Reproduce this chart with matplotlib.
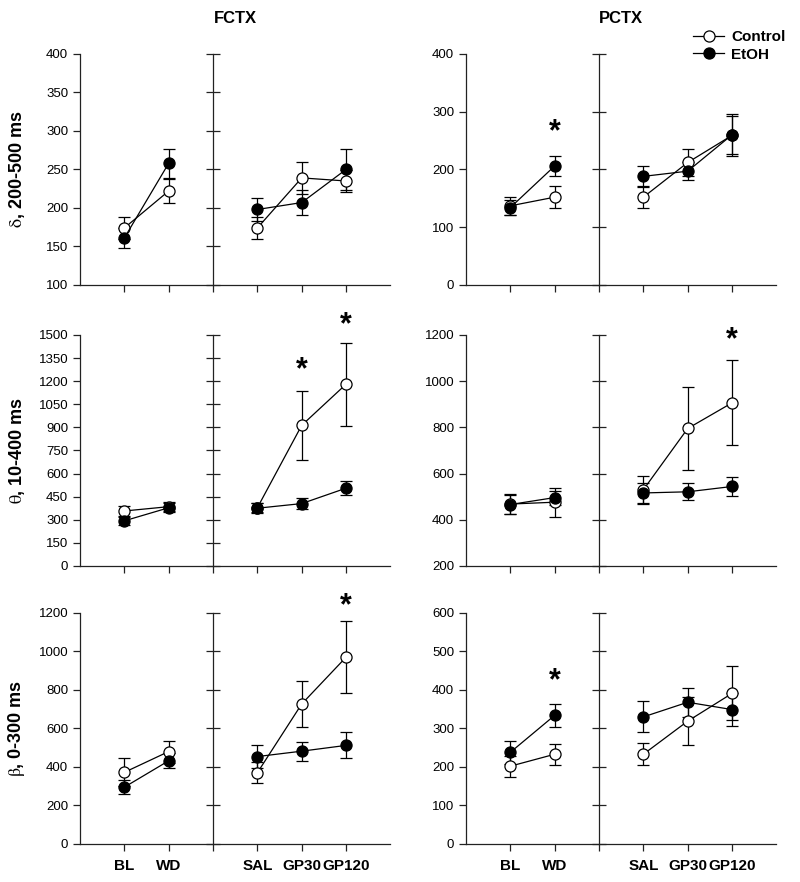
import matplotlib
matplotlib.use('Agg')
import matplotlib.pyplot as plt
import numpy as np

plt.rcParams['font.family'] = ['Liberation Sans', 'DejaVu Sans']
plt.rcParams['mathtext.fontset'] = 'stix'

conditions = ['BL', 'WD', 'SAL', 'GP30', 'GP120']
regions = ['FCTX', 'PCTX']
band_labels = [r'$\mathrm{\delta}$, 200-500 ms', r'$\mathrm{\theta}$, 10-400 ms',
               r'$\mathrm{\beta}$, 0-300 ms']

# mean and SEM, in order BL, WD, SAL, GP30, GP120
fctx_delta_ctrl = [174, 222, 174, 239, 235]
fctx_delta_ctrl_err = [14, 16, 14, 21, 14]
fctx_delta_etoh = [161, 258, 198, 207, 250]
fctx_delta_etoh_err = [13, 19, 15, 16, 27]

pctx_delta_ctrl = [137, 152, 152, 212, 259]
pctx_delta_ctrl_err = [16, 19, 19, 24, 33]
pctx_delta_etoh = [134, 206, 188, 197, 260]
pctx_delta_etoh_err = [13, 18, 18, 15, 36]

fctx_theta_ctrl = [357, 385, 378, 913, 1180]
fctx_theta_ctrl_err = [33, 30, 30, 222, 270]
fctx_theta_etoh = [293, 378, 375, 405, 505]
fctx_theta_etoh_err = [28, 28, 33, 35, 46]

pctx_theta_ctrl = [468, 476, 530, 795, 906]
pctx_theta_ctrl_err = [44, 62, 60, 181, 184]
pctx_theta_etoh = [466, 496, 516, 521, 544]
pctx_theta_etoh_err = [42, 30, 45, 36, 42]

fctx_beta_ctrl = [372, 480, 370, 727, 970]
fctx_beta_ctrl_err = [73, 57, 54, 120, 187]
fctx_beta_etoh = [295, 432, 454, 482, 512]
fctx_beta_etoh_err = [38, 40, 60, 50, 68]

pctx_beta_ctrl = [202, 233, 233, 319, 391]
pctx_beta_ctrl_err = [27, 27, 28, 62, 70]
pctx_beta_etoh = [238, 334, 330, 368, 349]
pctx_beta_etoh_err = [30, 29, 40, 38, 42]

# (row, col, condition, y) for significance stars
stars = [(0, 1, 'WD', 265), (1, 0, 'GP30', 1273), (1, 0, 'GP120', 1565),
         (1, 1, 'GP120', 1178), (2, 0, 'GP120', 1235), (2, 1, 'WD', 422)]

data = [
    [(fctx_delta_ctrl, fctx_delta_ctrl_err, fctx_delta_etoh, fctx_delta_etoh_err),
     (pctx_delta_ctrl, pctx_delta_ctrl_err, pctx_delta_etoh, pctx_delta_etoh_err)],
    [(fctx_theta_ctrl, fctx_theta_ctrl_err, fctx_theta_etoh, fctx_theta_etoh_err),
     (pctx_theta_ctrl, pctx_theta_ctrl_err, pctx_theta_etoh, pctx_theta_etoh_err)],
    [(fctx_beta_ctrl, fctx_beta_ctrl_err, fctx_beta_etoh, fctx_beta_etoh_err),
     (pctx_beta_ctrl, pctx_beta_ctrl_err, pctx_beta_etoh, pctx_beta_etoh_err)],
]

# axis ranges: (ymin, ymax, step)
yranges = [[(100, 400, 50), (0, 400, 100)],
           [(0, 1500, 150), (200, 1200, 200)],
           [(0, 1200, 200), (0, 600, 100)]]

xpos = np.array([1, 2, 4, 5, 6])
divider_x = 3
segments = [slice(0, 2), slice(2, 5)]

fig = plt.figure(figsize=(8, 8.82), dpi=100)
lefts = [0.1, 0.5825]
bottoms = [0.6769, 0.3583, 0.0431]
w, h = 0.388, 0.262

for r in range(3):
    for c in range(2):
        ax = fig.add_axes([lefts[c], bottoms[r], w, h])
        ctrl, ctrl_err, etoh, etoh_err = [np.array(a) for a in data[r][c]]
        ymin, ymax, step = yranges[r][c]

        for mean, err, face, lab in [(ctrl, ctrl_err, 'white', 'Control'),
                                     (etoh, etoh_err, 'black', 'EtOH')]:
            for i, s in enumerate(segments):
                ax.errorbar(xpos[s], mean[s], yerr=err[s], fmt='none', ecolor='black',
                            elinewidth=0.9, capsize=4.5, capthick=0.9, zorder=2)
                ax.plot(xpos[s], mean[s], '-o', color='black', lw=0.9, ms=8,
                        mfc=face, mec='black', mew=0.9, zorder=3,
                        label=lab if i == 0 else None)

        ax.set_xlim(0, 7)
        ax.set_ylim(ymin, ymax)
        ax.set_yticks(np.arange(ymin, ymax + 1, step))
        ax.set_xticks(list(xpos) + [divider_x])
        for sp in ['top', 'right']:
            ax.spines[sp].set_visible(False)
        for sp in ['left', 'bottom']:
            ax.spines[sp].set_linewidth(0.9)
            ax.spines[sp].set_color('#222222')
        ax.tick_params(axis='both', direction='out', length=5, width=0.9,
                       color='#222222')
        ax.tick_params(axis='y', labelsize=9.5)
        ax.tick_params(axis='x', pad=6)
        if r == 2:
            ax.set_xticklabels(conditions + [''], fontweight='bold', fontsize=11)
        else:
            ax.set_xticklabels([])

        # inner axis at the divider
        ax2 = ax.twinx()
        ax2.set_ylim(ymin, ymax)
        ax2.spines['left'].set_position(('data', divider_x))
        ax2.spines['left'].set_linewidth(0.9)
        ax2.spines['left'].set_color('#222222')
        for sp in ['top', 'right', 'bottom']:
            ax2.spines[sp].set_visible(False)
        ax2.yaxis.set_ticks_position('left')
        ax2.set_yticks(np.arange(ymin, ymax + 1, step))
        ax2.tick_params(axis='y', direction='inout', length=10, width=0.9,
                        color='#222222', labelleft=False, labelright=False)

        if c == 0:
            ax.set_ylabel(band_labels[r], fontsize=13, fontweight='bold')
            ax.yaxis.set_label_coords(-0.17, 0.5)
        if r == 0:
            ax.set_title(regions[c], fontsize=12, fontweight='bold', pad=22)

        for (sr, sc, cond, y) in stars:
            if sr == r and sc == c:
                ax.text(xpos[conditions.index(cond)], y, '*', fontsize=22,
                        fontweight='bold', ha='center', va='center', clip_on=False)

        if r == 0 and c == 1:
            ax.legend(loc='upper right', bbox_to_anchor=(1.05, 1.13), frameon=False,
                      prop={'weight': 'bold', 'size': 11},
                      handlelength=2.0, handletextpad=0.5, labelspacing=0.25,
                      borderaxespad=0)

fig.savefig('out.png', dpi=100)
